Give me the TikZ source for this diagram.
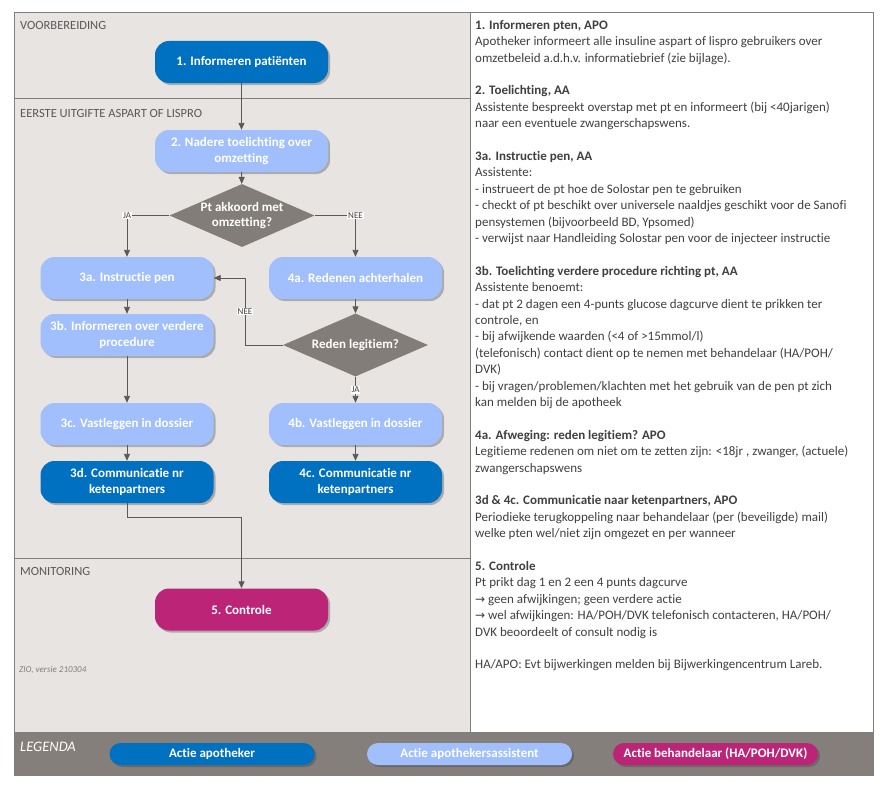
\documentclass[tikz,border=0pt]{standalone}
\usepackage{fontspec}
\setmainfont{Carlito}[Ligatures=NoCommon]
\newfontfamily\dejavu{DejaVu Sans}
\usetikzlibrary{shapes.geometric,arrows.meta,shadows}
\definecolor{dblue}{HTML}{0070C0}
\definecolor{lblue}{HTML}{A0BFFC}
\definecolor{magen}{HTML}{BC2577}
\definecolor{dgray}{HTML}{837D79}
\definecolor{bggray}{HTML}{E8E4E1}
\definecolor{leggray}{HTML}{857F7B}
\definecolor{framec}{HTML}{7F7F7F}
\definecolor{arrowc}{HTML}{595959}
\definecolor{txtc}{HTML}{404040}
\definecolor{lblc}{HTML}{595959}
\begin{document}
\begin{tikzpicture}[x=1pt,y=-1pt,
  box/.style={rounded corners=14pt, minimum width=173pt, minimum height=42pt,
    inner sep=2pt, text=white, font=\fontsize{13}{15.5}\selectfont\bfseries, align=center,
    drop shadow={shadow xshift=2pt, shadow yshift=-2pt, opacity=0.45, fill=black!60}},
  apo/.style={box, fill=dblue},
  ass/.style={box, fill=lblue},
  beh/.style={box, fill=magen},
  dec/.style={diamond, fill=dgray, inner sep=0pt, minimum width=145pt, minimum height=63pt},
  declbl/.style={text=white, font=\fontsize{13}{15.5}\selectfont\bfseries, align=center},
  leg/.style={rounded corners=11pt, minimum width=205pt, minimum height=22pt, inner sep=1pt,
    text=white, font=\fontsize{13}{15}\selectfont\bfseries,
    drop shadow={shadow xshift=2pt, shadow yshift=-2pt, opacity=0.45, fill=black!70}},
  conn/.style={draw=arrowc, line width=0.9pt, -{Triangle[length=7pt,width=6pt]}},
  plain/.style={draw=arrowc, line width=0.9pt},
  yn/.style={fill=white, inner sep=1pt, text=txtc, font=\fontsize{9}{10}\selectfont},
  sect/.style={anchor=west, text=lblc, font=\fontsize{12.5}{14}\selectfont, inner sep=0pt}
]
\useasboundingbox (0,0) rectangle (885,784);
% panels
\fill[bggray] (14,12) rectangle (470,732);
\fill[white] (470,12) rectangle (873,732);
\fill[leggray] (14,732) rectangle (873,775);
\draw[framec, line width=0.9pt] (14,12) rectangle (873,775);
\draw[framec, line width=0.9pt] (470,12) -- (470,732);
\draw[framec, line width=0.9pt] (14,98) -- (470,98);
\draw[framec, line width=0.9pt] (14,558) -- (470,558);
\draw[framec, line width=0.9pt] (14,732) -- (873,732);
% section labels
\node[sect] (s1) at (20,25) {VOORBEREIDING};
\node[sect] (s2) at (20,113) {EERSTE UITGIFTE ASPART OF LISPRO};
\node[sect] (s3) at (20,571) {MONITORING};
\node[sect, font=\fontsize{9}{10}\selectfont\itshape, text=framec] (ver) at (19,670) {ZIO, versie 210304};
\node[sect, font=\fontsize{14.5}{16}\selectfont\itshape, text=white] (lg) at (20,747) {LEGENDA};
% nodes
\node[apo] (n1) at (241.5,62) {1. Informeren patiënten};
\node[ass] (n2) at (241.5,151) {2. Nadere toelichting over\\omzetting};
\node[dec] (d1) at (242,215.5) {};
\node[declbl] at (d1.center) {Pt akkoord met\\omzetting?};
\node[ass] (n3a) at (127,278) {3a. Instructie pen};
\node[ass] (n4a) at (355.5,278) {4a. Redenen achterhalen};
\node[ass] (n3b) at (127,335) {3b. Informeren over verdere\\procedure};
\node[dec] (d2) at (355.5,345) {};
\node[declbl] at (d2.center) {Reden legitiem?};
\node[ass] (n3c) at (127,424) {3c. Vastleggen in dossier};
\node[ass] (n4b) at (355.5,424) {4b. Vastleggen in dossier};
\node[apo] (n3d) at (127,482) {3d. Communicatie nr\\ketenpartners};
\node[apo] (n4c) at (355.5,482) {4c. Communicatie nr\\ketenpartners};
\node[beh] (n5) at (241.5,609.5) {5. Controle};
% connectors
\draw[conn] (n1) -- (n2);
\draw[conn] (n2) -- (d1);
\draw[conn] (d1.west) -| node[yn, pos=0.5] {JA} (n3a.north);
\draw[conn] (d1.east) -| node[yn, pos=0.5] {NEE} (n4a.north);
\draw[conn] (n3a) -- (n3b);
\draw[conn] (n3b) -- (n3c);
\draw[conn] (n3c) -- (n3d);
\draw[conn] (n4a) -- (d2);
\coordinate (nk) at (245,278);
\draw[plain] (d2.west) -| node[yn, pos=0.75] {NEE} (nk);
\draw[conn] (nk) -- (n3a.east);
\draw[conn] (d2) -- node[yn] {JA} (n4b);
\draw[conn] (n4b) -- (n4c);
\coordinate (jn) at (127,517);
\draw[plain] (n3d.south) -- (jn);
\draw[conn] (jn) -| (n5.north);
% legend
\node[leg, fill=dblue] (l1) at (212,754) {Actie apotheker};
\node[leg, fill=lblue] (l2) at (469.5,754) {Actie apothekersassistent};
\node[leg, fill=magen] (l3) at (715.5,754) {Actie behandelaar (HA/POH/DVK)};
% description text
\node[anchor=north west, inner sep=0pt, align=left, text=txtc,
  font=\fontsize{13}{16.4}\selectfont] (desc) at (475,20) {%
\textbf{1. Informeren pten, APO}\\
Apotheker informeert alle insuline aspart of lispro gebruikers over\\
omzetbeleid a.d.h.v. informatiebrief (zie bijlage).\\[16.4pt]
\textbf{2. Toelichting, AA}\\
Assistente bespreekt overstap met pt en informeert (bij <40jarigen)\\
naar een eventuele zwangerschapswens.\\[16.4pt]
\textbf{3a. Instructie pen, AA}\\
Assistente:\\
- instrueert de pt hoe de Solostar pen te gebruiken\\
- checkt of pt beschikt over universele naaldjes geschikt voor de Sanofi\\
pensystemen (bijvoorbeeld BD, Ypsomed)\\
- verwijst naar Handleiding Solostar pen voor de injecteer instructie\\[16.4pt]
\textbf{3b. Toelichting verdere procedure richting pt, AA}\\
Assistente benoemt:\\
- dat pt 2 dagen een 4-punts glucose dagcurve dient te prikken ter\\
controle, en\\
- bij afwijkende waarden (<4 of >15mmol/l)\\
(telefonisch) contact dient op te nemen met behandelaar (HA/POH/\\
DVK)\\
- bij vragen/problemen/klachten met het gebruik van de pen pt zich\\
kan melden bij de apotheek\\[16.4pt]
\textbf{4a. Afweging: reden legitiem? APO}\\
Legitieme redenen om niet om te zetten zijn: <18jr , zwanger, (actuele)\\
zwangerschapswens\\[16.4pt]
\textbf{3d \& 4c. Communicatie naar ketenpartners, APO}\\
Periodieke terugkoppeling naar behandelaar (per (beveiligde) mail)\\
welke pten wel/niet zijn omgezet en per wanneer\\[16.4pt]
\textbf{5. Controle}\\
Pt prikt dag 1 en 2 een 4 punts dagcurve\\
{\dejavu\fontsize{12}{13}\selectfont →} geen afwijkingen; geen verdere actie\\
{\dejavu\fontsize{12}{13}\selectfont →} wel afwijkingen: HA/POH/DVK telefonisch contacteren, HA/POH/\\
DVK beoordeelt of consult nodig is\\[16.4pt]
HA/APO: Evt bijwerkingen melden bij Bijwerkingencentrum Lareb.};
\end{tikzpicture}
\end{document}
